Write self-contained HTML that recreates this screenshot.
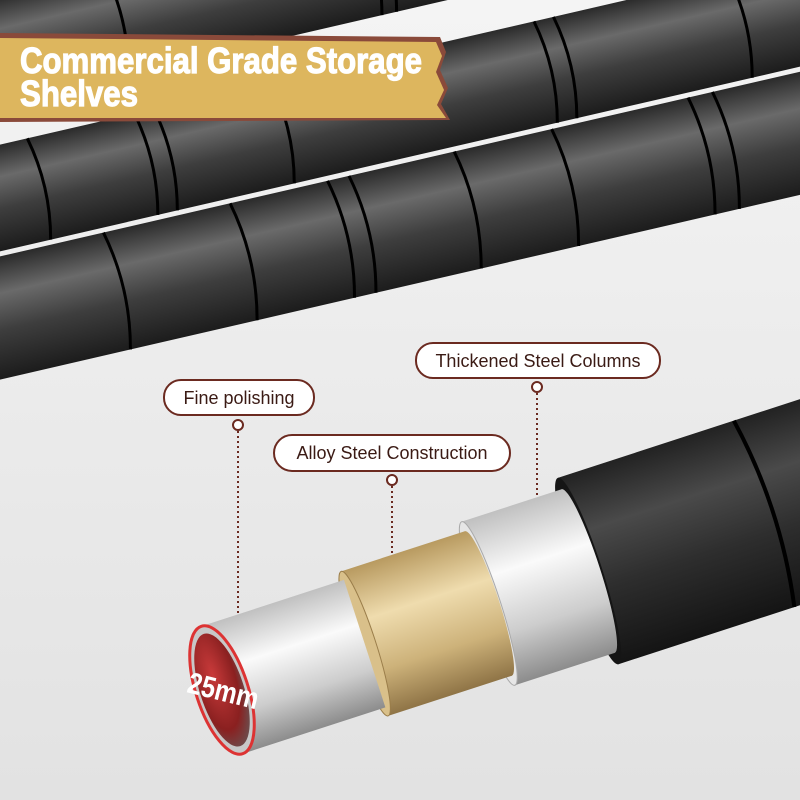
<!DOCTYPE html>
<html><head><meta charset="utf-8"><style>
html,body{margin:0;padding:0;}
body{width:800px;height:800px;overflow:hidden;background:#ececec;}
</style></head><body>
<svg width="800" height="800" viewBox="0 0 800 800" xmlns="http://www.w3.org/2000/svg" style="display:block">
<defs>
<linearGradient id="bg" x1="0" y1="0" x2="0" y2="1"><stop offset="0" stop-color="#f4f4f4"/><stop offset="1" stop-color="#e2e2e2"/></linearGradient>
<linearGradient id="blk" x1="0" y1="0" x2="0" y2="1"><stop offset="0" stop-color="#2a2a2a"/><stop offset="0.3" stop-color="#6a6a6a"/><stop offset="0.6" stop-color="#3e3e3e"/><stop offset="1" stop-color="#1c1c1c"/></linearGradient>
<linearGradient id="blk2" x1="0" y1="0" x2="0" y2="1"><stop offset="0" stop-color="#222"/><stop offset="0.3" stop-color="#4a4a4a"/><stop offset="0.6" stop-color="#2e2e2e"/><stop offset="1" stop-color="#141414"/></linearGradient>
<linearGradient id="sil" x1="0" y1="0" x2="0" y2="1"><stop offset="0" stop-color="#c0c0c0"/><stop offset="0.35" stop-color="#fafafa"/><stop offset="0.7" stop-color="#cdcdcd"/><stop offset="1" stop-color="#8c8c8c"/></linearGradient>
<linearGradient id="gold" x1="0" y1="0" x2="0" y2="1"><stop offset="0" stop-color="#b89a60"/><stop offset="0.35" stop-color="#efdcae"/><stop offset="0.7" stop-color="#cdb27a"/><stop offset="1" stop-color="#8f7446"/></linearGradient>
<radialGradient id="red" cx="0.4" cy="0.35" r="0.7"><stop offset="0" stop-color="#c83a3a"/><stop offset="0.7" stop-color="#8a2020"/><stop offset="1" stop-color="#6a5050"/></radialGradient>
</defs>
<rect width="800" height="800" fill="url(#bg)"/>
<g transform="translate(0,50) rotate(-13)"><rect x="-100" y="-52" width="1100" height="104" fill="url(#blk)"/>
<g stroke="#000" stroke-width="3" fill="none"><path d="M120 -52 q12 52 0 104"/><path d="M380 -52 q12 52 0 104"/><path d="M395 -52 q12 52 0 104"/><path d="M650 -52 q12 52 0 104"/></g></g>
<g transform="translate(0,198) rotate(-13)"><rect x="-100" y="-52" width="1100" height="104" fill="url(#blk)"/>
<g stroke="#000" stroke-width="3" fill="none"><path d="M40 -52 q12 52 0 104"/><path d="M150 -52 q12 52 0 104"/><path d="M170 -52 q12 52 0 104"/><path d="M290 -52 q12 52 0 104"/><path d="M560 -52 q12 52 0 104"/><path d="M580 -52 q12 52 0 104"/><path d="M760 -52 q12 52 0 104"/></g></g>
<g transform="translate(0,318) rotate(-13)"><rect x="-100" y="-60" width="1100" height="120" fill="url(#blk)"/>
<g stroke="#000" stroke-width="3" fill="none"><path d="M120 -60 q14 60 0 120"/><path d="M250 -60 q14 60 0 120"/><path d="M350 -60 q14 60 0 120"/><path d="M372 -60 q14 60 0 120"/><path d="M480 -60 q14 60 0 120"/><path d="M580 -60 q14 60 0 120"/><path d="M720 -60 q14 60 0 120"/><path d="M745 -60 q14 60 0 120"/></g></g>
<polygon points="0,33 440,37 446,52 440,70 448,88 441,104 450,120 0,122" fill="#8a4a3a"/>
<polygon points="0,38 436,42 442,56 436,72 444,90 437,105 446,118 0,118" fill="#ddb65e"/>
<g font-family="'Liberation Sans',sans-serif" font-weight="bold" font-size="36" fill="#fff" stroke="#fff" stroke-width="1.2">
<text x="20" y="73" textLength="402" lengthAdjust="spacingAndGlyphs">Commercial Grade Storage</text>
<text x="20" y="106" textLength="118" lengthAdjust="spacingAndGlyphs">Shelves</text></g>
<g stroke="#6b2a20" stroke-width="2" stroke-dasharray="2 3" fill="none">
<line x1="238" y1="431" x2="238" y2="618"/><line x1="392" y1="486" x2="392" y2="560"/><line x1="537" y1="393" x2="537" y2="500"/></g>
<g fill="#fff" stroke="#6b2a20" stroke-width="2"><circle cx="238" cy="425" r="5"/><circle cx="392" cy="480" r="5"/><circle cx="537" cy="387" r="5"/></g>
<g transform="translate(222,690) rotate(-18)">
<rect x="385" y="-98" width="500" height="196" fill="url(#blk2)"/>
<path d="M570 -98 q18 98 0 196" stroke="#000" stroke-width="4" fill="none"/>
<ellipse cx="385" cy="0" rx="14" ry="98" fill="#151515"/>
<rect x="280" y="-86" width="105" height="172" fill="url(#sil)"/>
<ellipse cx="385" cy="0" rx="12" ry="86" fill="url(#sil)"/>
<ellipse cx="280" cy="0" rx="12" ry="86" fill="#e6e6e6" stroke="#aaa"/>
<rect x="150" y="-76" width="130" height="152" fill="url(#gold)"/>
<ellipse cx="280" cy="0" rx="11" ry="76" fill="url(#gold)"/>
<ellipse cx="150" cy="0" rx="11" ry="76" fill="#d9c08a" stroke="#9a7d4a"/>
<rect x="0" y="-67" width="150" height="134" fill="url(#sil)"/>
<ellipse cx="0" cy="0" rx="26" ry="67" fill="#c8c8c8" stroke="#d33" stroke-width="3"/>
<ellipse cx="0" cy="0" rx="22" ry="59" fill="url(#red)"/>
</g>
<text x="0" y="0" transform="translate(186,692) rotate(14)" font-family="'Liberation Sans',sans-serif" font-weight="bold" font-size="30" fill="#fff" textLength="72" lengthAdjust="spacingAndGlyphs">25mm</text>
<g fill="#fff" stroke="#6b2a20" stroke-width="2">
<rect x="164" y="380" width="150" height="35" rx="17"/>
<rect x="274" y="435" width="236" height="36" rx="18"/>
<rect x="416" y="343" width="244" height="35" rx="17"/></g>
<g font-family="'Liberation Sans',sans-serif" font-size="18" fill="#3a1a14">
<text x="239" y="404" text-anchor="middle">Fine polishing</text>
<text x="392" y="459" text-anchor="middle">Alloy Steel Construction</text>
<text x="538" y="367" text-anchor="middle">Thickened Steel Columns</text></g>
</svg>
</body></html>
